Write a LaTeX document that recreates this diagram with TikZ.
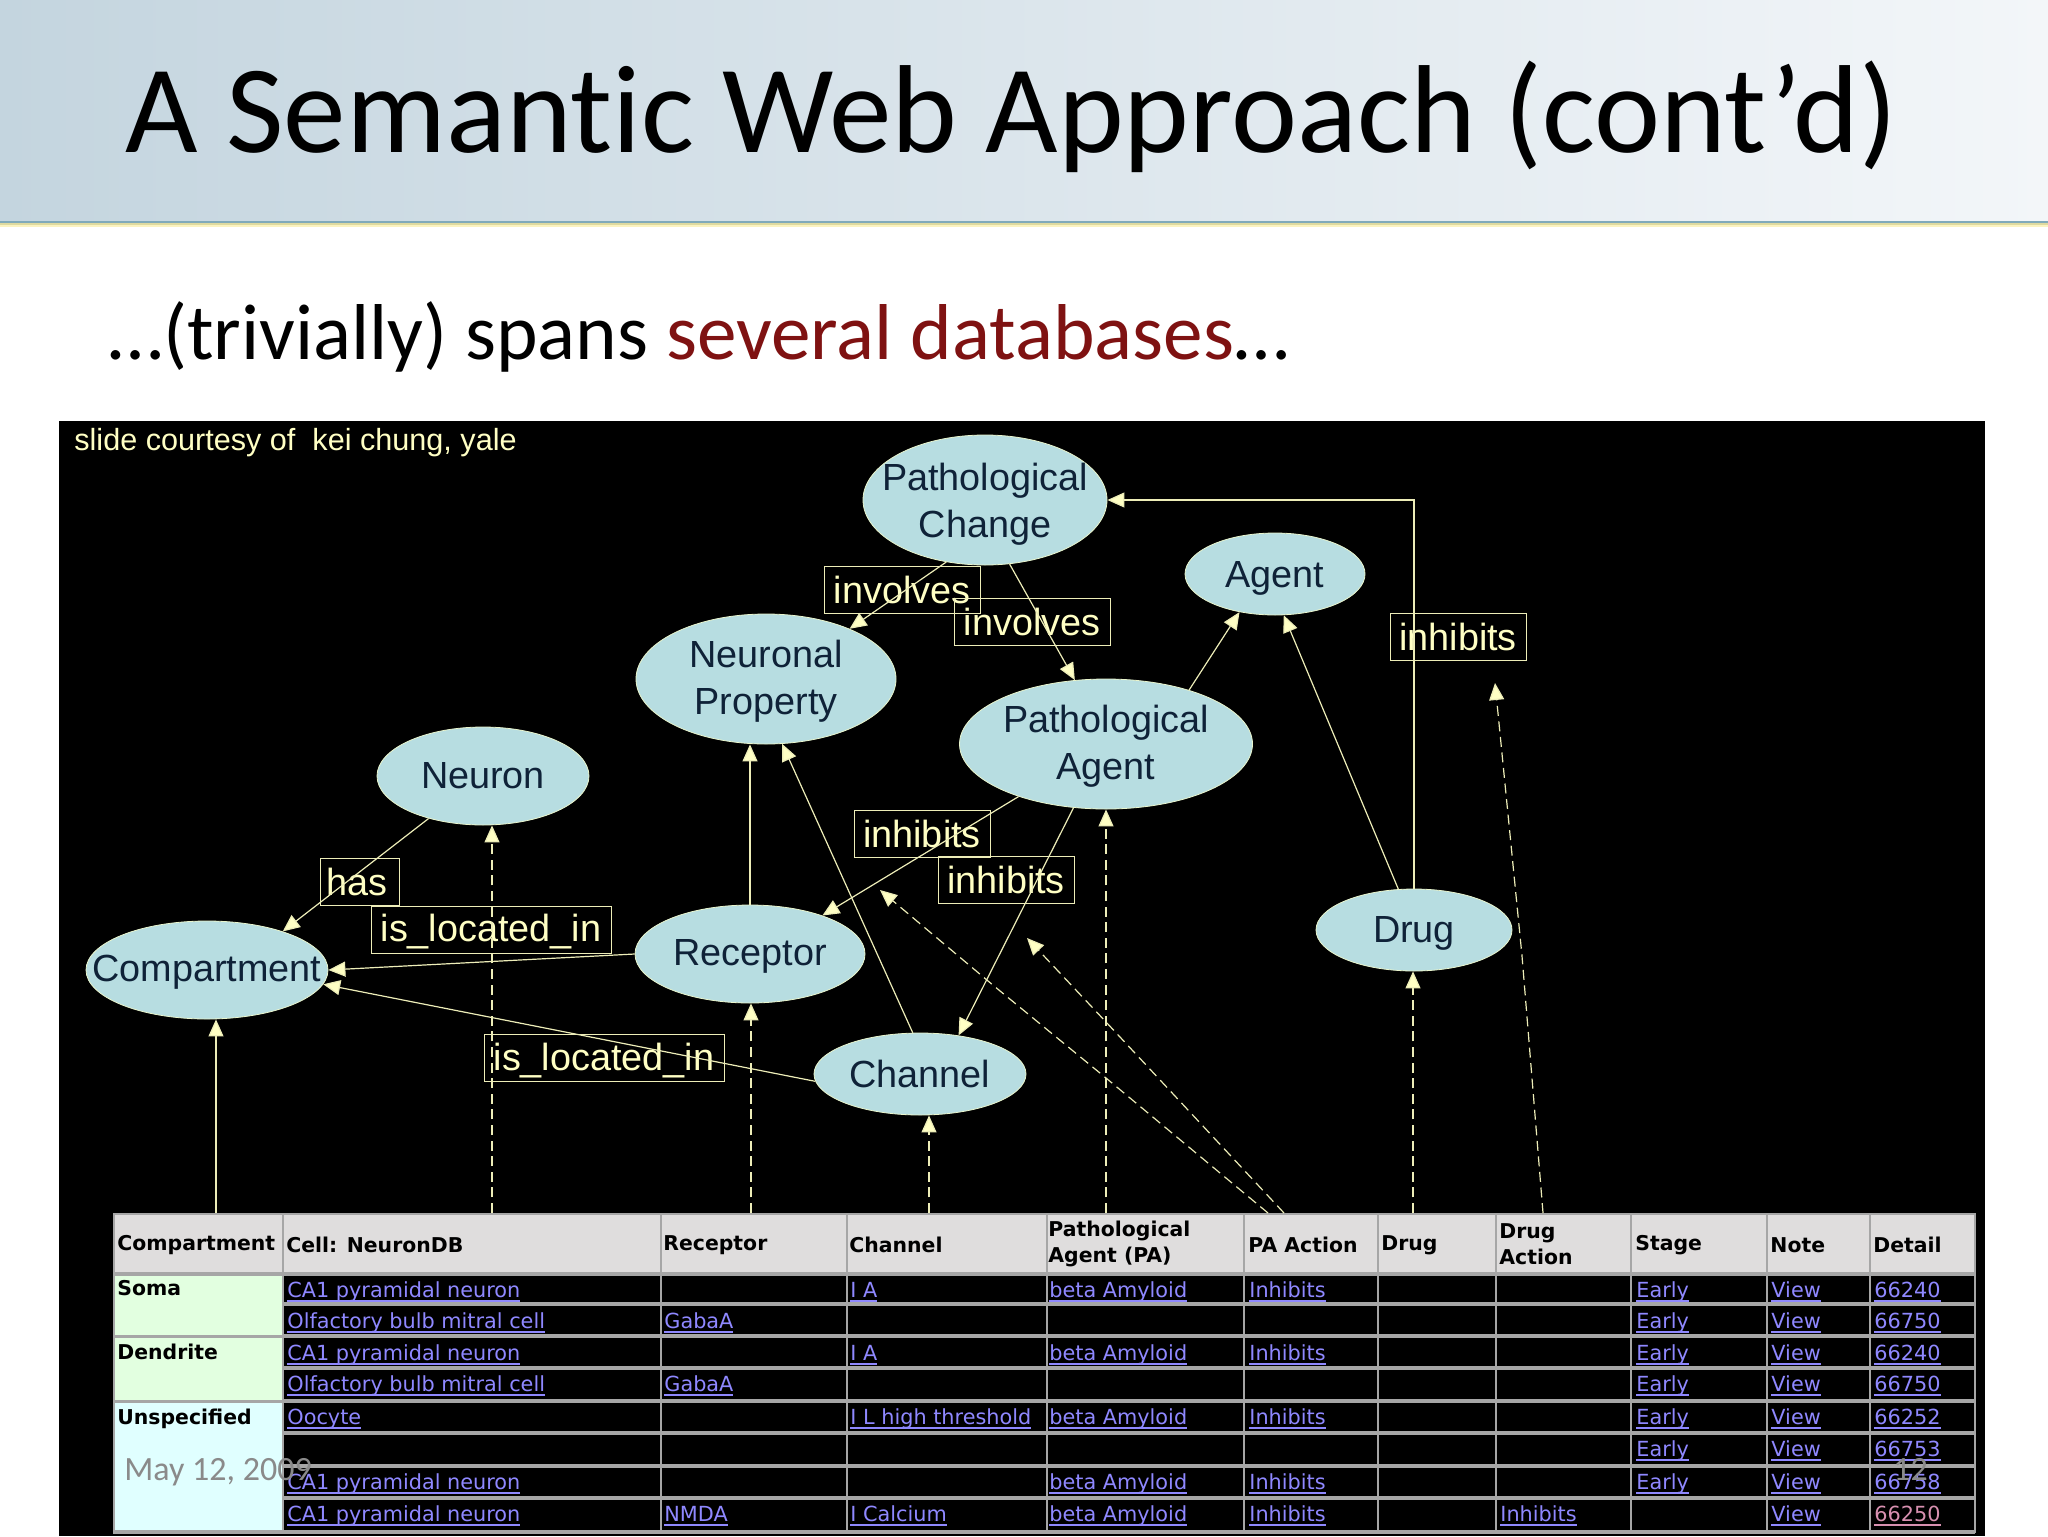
\documentclass[tikz,border=0pt]{standalone}
\usepackage{fontspec}
\usetikzlibrary{arrows.meta,shapes.geometric,calc}
\newfontfamily\calfont[Ligatures=NoCommon]{Carlito}
\newfontfamily\libfont{Liberation Sans}
\newfontfamily\djvfont{DejaVu Sans}
\definecolor{ell}{HTML}{B7DDE1}
\definecolor{elltxt}{HTML}{0F2238}
\definecolor{pale}{HTML}{FFFFC4}
\definecolor{paleline}{HTML}{EDEDB8}
\definecolor{lk}{HTML}{8F88FF}
\definecolor{lkv}{HTML}{D890B0}
\definecolor{grid}{HTML}{A6A6A6}
\definecolor{hdr}{HTML}{DFDDDD}
\definecolor{soma}{HTML}{E2FFE0}
\definecolor{unsp}{HTML}{E0FFFF}
\definecolor{foot}{HTML}{8A8A8A}
\definecolor{redtxt}{HTML}{7F1212}
\definecolor{bandl}{HTML}{C4D5DF}
\definecolor{bandr}{HTML}{F3F6F9}
\definecolor{ruleA}{HTML}{80AABA}
\definecolor{ruleB}{HTML}{DEDAA0}
\definecolor{ruleC}{HTML}{FBF3C0}
\newsavebox\lkbox
\newcommand\lk[1]{\sbox\lkbox{#1}\rlap{\rule[-2.7pt]{\wd\lkbox}{1pt}}\usebox\lkbox}
\newcommand\dn{\rule{0pt}{17.8pt}}
\newcommand\dnn{\rule{0pt}{15.8pt}}
\newcount\tcn
\newcommand\tl[3]{\global\advance\tcn by 1 \node[linktxt] (cell\the\tcn) at (#1,#2) {\lk{#3}};}
\tikzset{
  x=0.5pt,y=-0.5pt,
  concept/.style={shape=ellipse,fill=ell,draw=pale!70!ell,line width=.4pt,inner xsep=-20pt,inner ysep=-15pt,
    text=elltxt,align=center,font=\libfont\fontsize{18.9}{23.7}\selectfont},
  rel/.style={draw=paleline,line width=.5pt,inner sep=0pt,text=pale,minimum height=23.8pt,
    font=\libfont\fontsize{18.9}{23.7}\selectfont},
  link/.style={draw=paleline,line width=.6pt,-{Triangle[length=8.5pt,width=7.5pt,fill=pale]}},
  dlink/.style={link,dash pattern=on 5pt off 2.8pt},
  linktxt/.style={anchor=base west,inner sep=0pt,text=lk,font=\djvfont\fontsize{10.4}{13}\selectfont},
  headtxt/.style={anchor=west,inner sep=0pt,align=left,text=black,font=\djvfont\bfseries\fontsize{10.2}{13}\selectfont},
  sidetxt/.style={anchor=base west,inner sep=0pt,text=black,font=\djvfont\bfseries\fontsize{10.2}{13}\selectfont},
  gridline/.style={draw=grid,line width=1.6pt},
  gridcol/.style={draw=grid,line width=1pt},
}
\begin{document}
\begin{tikzpicture}
\useasboundingbox (0,0) rectangle (2048,1536);
\fill[white] (0,0) rectangle (2048,1536);
% header band
\shade[left color=bandl,right color=bandr] (0,0) rectangle (2048,221);
\fill[ruleA] (0,221) rectangle (2048,223);
\fill[ruleB] (0,223) rectangle (2048,225);
\fill[ruleC] (0,225) rectangle (2048,226.5);
\node[anchor=base west,inner sep=0pt,text=black,font=\calfont\fontsize{62.6}{70}\selectfont] (title) at (125,152) {A Semantic Web Approach (cont’d)};
\node[anchor=base west,inner sep=0pt,text=black,font=\calfont\fontsize{39.6}{46}\selectfont] (subtitle) at (108,359) {…(trivially) spans \textcolor{redtxt}{several databases}…};
% panel
\fill[black] (59,421) rectangle (1985,1536);
\node[anchor=base west,inner sep=0pt,text=pale,font=\libfont\fontsize{15.3}{17}\selectfont] (credit) at (74,450) {slide courtesy of\ \ kei chung, yale};
% concepts
\node[concept,minimum width=122pt,minimum height=65pt] (pc) at (985,500) {\dn Pathological\\Change};
\node[concept,text depth=0pt,minimum width=90pt,minimum height=41pt] (agent) at (1275,574) {Agent};
\node[concept,minimum width=146.5pt,minimum height=65pt] (pa) at (1106,744) {\dnn Pathological\\Agent};
\node[concept,minimum width=130pt,minimum height=65pt] (np) at (766,679) {\dnn Neuronal\\Property};
\node[concept,minimum width=106pt,minimum height=49pt] (neuron) at (483,776) {Neuron};
\node[concept,text depth=2pt,minimum width=121pt,minimum height=49pt] (comp) at (207,970) {Compartment};
\node[concept,text depth=2pt,minimum width=115pt,minimum height=49pt] (recep) at (750,954) {Receptor};
\node[concept,minimum width=106pt,minimum height=41pt] (chan) at (920,1074) {Channel};
\node[concept,text depth=1pt,minimum width=98pt,minimum height=41pt] (drug) at (1414,930) {Drug};
% relation labels
\node[rel,minimum width=39.5pt] (has) at (360,882) {has\kern3pt};
\node[rel,text depth=2pt,minimum width=120pt] (il1) at (491,930) {is\_located\_in};
\node[rel,text depth=1.5pt,minimum width=120pt] (il2) at (604,1058) {is\_located\_in};
\node[rel,minimum width=78pt] (inv1) at (902,590) {involves};
\node[rel,minimum width=78pt] (inv2) at (1032,622) {involves};
\node[rel,minimum width=68pt] (inha) at (922,834) {inhibits};
\node[rel,minimum width=68pt] (inhb) at (1006,880) {inhibits};
\node[rel,minimum width=68pt] (inhc) at (1458,637) {inhibits};
% table
\fill[grid] (113,1213) rectangle (1975,1533);
\fill[hdr] (115,1215) rectangle (1975,1273);
\fill[black] (283,1275) rectangle (1975,1531);
\fill[soma] (115,1275) rectangle (283,1335);
\fill[soma] (115,1338) rectangle (283,1400);
\fill[unsp] (115,1403) rectangle (283,1532);
\foreach \yy in {1304,1336,1368,1401,1433,1466,1498}{\draw[gridline] (283,\yy) -- (1975,\yy);}
\draw[gridline] (113,1274) -- (1975,1274);
\draw[gridline] (113,1336.5) -- (283,1336.5);
\draw[gridline] (113,1401.5) -- (283,1401.5);
\draw[gridline] (113,1532) -- (1975,1532);
\foreach \xx in {283,661,847,1047,1244,1378,1496,1631,1767,1870,1975}{\draw[gridcol] (\xx,1213) -- (\xx,1533);}
% table header
\node[headtxt] (h1) at (117,1245) {Compartment};
\node[headtxt] (h2) at (286,1245) {Cell: NeuronDB};
\node[headtxt] (h3) at (663,1245) {Receptor};
\node[headtxt] (h4) at (849,1245) {Channel};
\node[headtxt] (h5) at (1048,1244) {Pathological\\Agent (PA)};
\node[headtxt] (h6) at (1248,1245) {PA Action};
\node[headtxt] (h7) at (1381,1245) {Drug};
\node[headtxt] (h8) at (1499,1244) {Drug\\Action};
\node[headtxt] (h9) at (1635,1245) {Stage};
\node[headtxt] (h10) at (1770,1245) {Note};
\node[headtxt] (h11) at (1873,1245) {Detail};
\node[sidetxt] (s1) at (117,1295) {Soma};
\node[sidetxt] (s2) at (117,1359) {Dendrite};
\node[sidetxt] (s3) at (117,1424) {Unspecified};
% table links
\tl{287}{1297}{CA1 pyramidal neuron}
\tl{287}{1328}{Olfactory bulb mitral cell}
\tl{287}{1360}{CA1 pyramidal neuron}
\tl{287}{1391}{Olfactory bulb mitral cell}
\tl{287}{1424}{Oocyte}
\tl{287}{1489}{CA1 pyramidal neuron}
\tl{287}{1521}{CA1 pyramidal neuron}
\tl{664}{1328}{GabaA}
\tl{664}{1391}{GabaA}
\tl{664}{1521}{NMDA}
\tl{850}{1297}{I A}
\tl{850}{1360}{I A}
\tl{850}{1424}{I L high threshold}
\tl{850}{1521}{I Calcium}
\foreach \yy in {1297,1360,1424,1489,1521}{
  \tl{1049}{\yy}{beta Amyloid}
  \tl{1249}{\yy}{Inhibits}
}
\tl{1500}{1521}{Inhibits}
\foreach \yy in {1297,1328,1360,1391,1424,1456,1489}{\tl{1636}{\yy}{Early}}
\foreach \yy in {1297,1328,1360,1391,1424,1456,1489,1521}{\tl{1771}{\yy}{View}}
\tl{1874}{1297}{66240}
\tl{1874}{1328}{66750}
\tl{1874}{1360}{66240}
\tl{1874}{1391}{66750}
\tl{1874}{1424}{66252}
\tl{1874}{1456}{66753}
\tl{1874}{1489}{66758}
\node[linktxt,text=lkv] (cellv) at (1874,1521) {\lk{66250}};
% free ends
\coordinate (tc) at (216,1213);
\coordinate (tn) at (492,1213);
\coordinate (tr) at (751,1213);
\coordinate (tch) at (929,1213);
\coordinate (tpa) at (1106,1213);
\coordinate (tdr) at (1413,1213);
\coordinate (tda) at (1543,1213);
\coordinate (da1) at (1522,956);
\coordinate (daend) at (1495,683);
\coordinate (act1) at (1284,1213);
\coordinate (a1m) at (1106,1022);
\coordinate (a1end) at (1027,938);
\coordinate (act2) at (1268,1213);
\coordinate (a2m) at (1106,1078);
\coordinate (a2n) at (994,986);
\coordinate (a2end) at (880,890);
% solid connectors
\draw[link] (pc.238) -- (np.31);
\draw[link] (pc.291) -- (pa.116);
\draw[link] (pa.33) -- (agent.227);
\draw[link] (drug.111) -- (agent.282);
\draw[link] (drug.north) |- (pc.east);
\draw[link] (pa.211) -- (recep.28);
\draw[link] (pa.243) -- (chan.45);
\draw[link] (chan.100) -- (np.284);
\draw[link] (recep.north) -- (recep.north |- np.south);
\draw[link] (recep.west) -- (comp.east);
\draw[link] (chan.184) -- (comp.353);
\draw[link] (neuron.218) -- (comp.27);
\draw[link] (tc) -- (tc |- comp.south);
% dashed connectors
\draw[dlink] (tn) -- (tn |- neuron.south);
\draw[dlink] (tr) -- (tr |- recep.south);
\draw[dlink] (tch) -- (tch |- chan.south);
\draw[dlink] (tpa) -- (tpa |- pa.south);
\draw[dlink] (tdr) -- (tdr |- drug.south);
\draw[dlink] (tda) -- (da1) -- (daend);
\draw[dlink] (act1) -- (a1m) -- (a1end);
\draw[dlink] (act2) -- (a2m) -- (a2n) -- (a2end);
% footer
\node[anchor=base west,inner sep=0pt,text=foot,font=\calfont\fontsize{17}{19}\selectfont] (date) at (124,1480) {May 12, 2009};
\node[anchor=base west,inner sep=0pt,text=foot,font=\calfont\fontsize{17}{19}\selectfont] (pageno) at (1893,1480) {12};
\end{tikzpicture}
\end{document}
